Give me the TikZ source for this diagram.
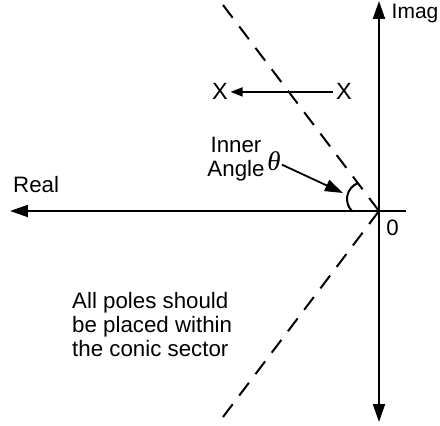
\documentclass[tikz,border=0pt]{standalone}
\usepackage{fontspec}
\setmainfont{Liberation Sans}
\newfontfamily\greekfont{Liberation Serif}
\usetikzlibrary{arrows.meta,positioning}

\begin{document}
\begin{tikzpicture}[x=1pt, y=1pt,
    axis/.style={line width=2pt, -{Triangle[length=18pt,width=12pt]}},
    sector/.style={line width=2pt, dash pattern=on 16pt off 10.9pt},
    label/.style={inner sep=0pt, font=\fontsize{22.3}{24}\selectfont},
    pole/.style={inner sep=2.5pt, font=\fontsize{23.5}{24}\selectfont}]
    \useasboundingbox (-379,-215) rectangle (61,211);

    % axes
    \coordinate (O) at (0,0);
    \coordinate (realend) at (-369,0);
    \coordinate (realstart) at (27,0);
    \coordinate (imagtop) at (0,210);
    \coordinate (imagbottom) at (0,-211);
    \draw[axis] (realstart) -- (realend);
    \draw[axis, {Triangle[length=18pt,width=12pt]}-{Triangle[length=18pt,width=12pt]}] (imagbottom) -- (imagtop);
    \node (real) [label, anchor=base west] at (-366,18.3) {Real};
    \node (imag) [label, font=\fontsize{21}{24}\selectfont, anchor=base west] at (12.5,193) {Imag};
    \node (zero) [label, anchor=base] at (13.5,-24) {0};

    % conic sector
    \coordinate (uppertip) at (-156,206);
    \coordinate (lowertip) at (-156,-206);
    \draw[sector] (uppertip) -- (O);
    \draw[sector] (lowertip) -- (O);

    % poles
    \node (poleA) [pole, anchor=base] at (-159,111) {X};
    \node (poleB) [pole, anchor=base] at (-35,111) {X};
    \draw[line width=1.5pt, -{Triangle[length=12pt,width=9pt]}] (poleB) -- (poleA);

    % inner angle
    \draw[line width=2pt] (-20.8,28) arc[start angle=110, end angle=225, radius=17];
    \coordinate (arctip) at (-36,18);
    \node (inner) [label, align=center, anchor=north] at (-143,74) {Inner\\Angle};
    \node (theta) [inner sep=1pt, font=\fontsize{27}{27}\selectfont\greekfont\itshape] at (-105,50) {θ};
    \draw[line width=1.8pt, -{Triangle[length=18pt,width=12pt]}] (theta) -- (arctip);

    \node (note) [label, align=left, anchor=north west] at (-307,-80.7) {All poles should\\be placed within\\the conic sector};
\end{tikzpicture}
\end{document}
